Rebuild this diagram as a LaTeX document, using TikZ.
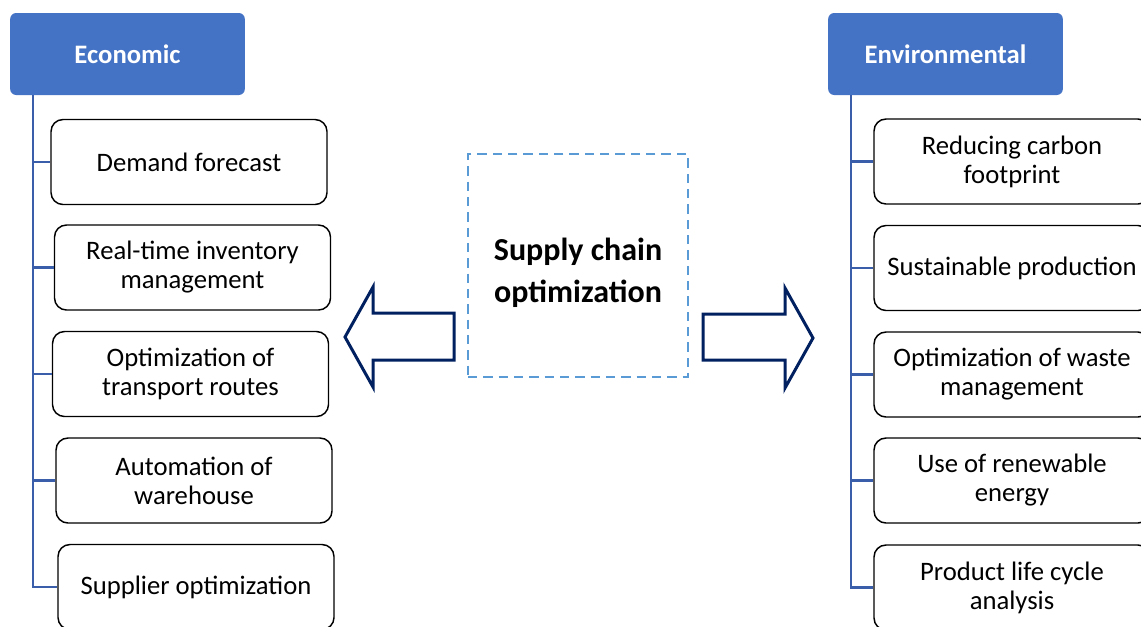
\documentclass[tikz,border=0pt]{standalone}
\usepackage{fontspec}
\setmainfont{Carlito}
\usetikzlibrary{positioning}
\definecolor{HeadBlue}{HTML}{4472C4}
\definecolor{SpineBlue}{HTML}{3B5EAB}
\definecolor{ArrowNavy}{HTML}{002060}
\definecolor{DashBlue}{HTML}{5B9BD5}

\begin{document}
\begin{tikzpicture}[
    x=0.75pt, y=-0.75pt,
    headbox/.style={fill=HeadBlue, rounded corners=4.5pt, minimum width=176pt, minimum height=61.5pt, text=white, font=\fontsize{20}{22}\selectfont\bfseries},
    itembox/.style={draw=black, fill=white, line width=1.1pt, rounded corners=9pt, align=center, minimum width=207pt, minimum height=63.75pt, inner sep=4pt, font=\fontsize{20}{21.75}\selectfont},
    corebox/.style={draw=DashBlue, line width=1.5pt, dash pattern=on 7pt off 4.5pt, align=center, minimum width=165pt, minimum height=167pt, font=\fontsize{24}{31.5}\selectfont\bfseries},
    branch/.style={draw=SpineBlue, line width=1.6pt},
    blockarrow/.style={draw=ArrowNavy, fill=white, line width=2.25pt, miter limit=10}
  ]
    \useasboundingbox (0,0) rectangle (1141,626);
    \clip (0,0) rectangle (1141,626);

    % left column
    \node[headbox] (eco) at (127.5,54) {Economic};
    \node[itembox] (eco1) at (189,162) {Demand forecast};
    \node[itembox] (eco2) at (192.5,267.5) {Real-time inventory\\management};
    \node[itembox] (eco3) at (190.5,374) {Optimization of\\transport routes};
    \node[itembox] (eco4) at (194,480.5) {Automation of\\warehouse};
    \node[itembox] (eco5) at (196,587) {Supplier optimization};

    % right column
    \node[headbox] (env) at (945.5,54) {Environmental};
    \node[itembox] (env1) at (1012,161.5) {Reducing carbon\\footprint};
    \node[itembox] (env2) at (1012,268) {Sustainable production};
    \node[itembox] (env3) at (1012,374.5) {Optimization of waste\\management};
    \node[itembox] (env4) at (1012,480.5) {Use of renewable\\energy};
    \node[itembox] (env5) at (1012,587.5) {Product life cycle\\analysis};

    % centre
    \node[corebox] (core) at (578,265.5) {\rule{0pt}{28pt}Supply chain\\optimization};

    \coordinate (ecospine) at (33,95);
    \coordinate (envspine) at (851,95);
    \draw[branch] (ecospine) |- (eco1.west);
    \draw[branch] (ecospine) |- (eco2.west);
    \draw[branch] (ecospine) |- (eco3.west);
    \draw[branch] (ecospine) |- (eco4.west);
    \draw[branch] (ecospine) |- (eco5.west);
    \draw[branch] (envspine) |- (env1.west);
    \draw[branch] (envspine) |- (env2.west);
    \draw[branch] (envspine) |- (env3.west);
    \draw[branch] (envspine) |- (env4.west);
    \draw[branch] (envspine) |- (env5.west);

    % block arrows
    \draw[blockarrow] (345,337) -- (373,287) -- (373,313) -- (454,313) -- (454,360) -- (373,360) -- (373,387) -- cycle;
    \draw[blockarrow] (813,338) -- (785,288) -- (785,314) -- (703,314) -- (703,360) -- (785,360) -- (785,388) -- cycle;
  \end{tikzpicture}
\end{document}
